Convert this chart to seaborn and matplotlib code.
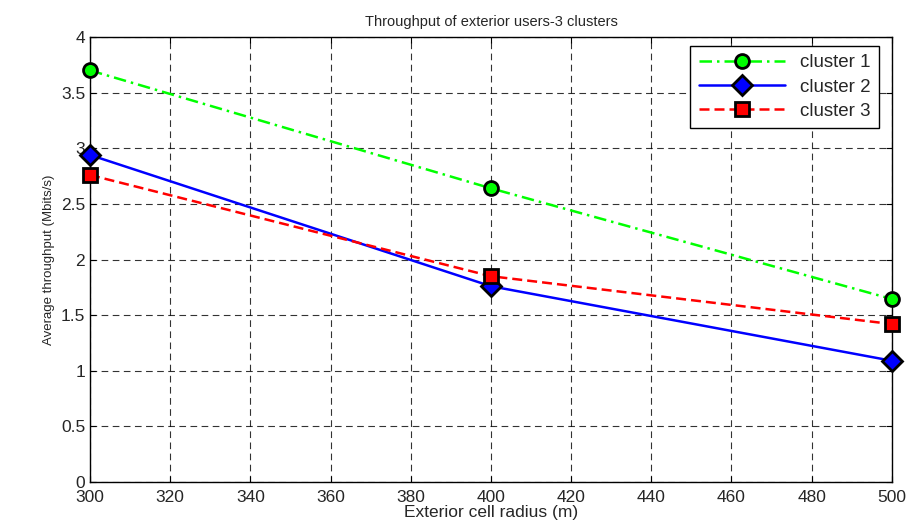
import matplotlib
matplotlib.use("Agg")
import matplotlib.pyplot as plt
import seaborn as sns
import pandas as pd

# values
radius = [300, 400, 500]
cluster1 = [3.70, 2.64, 1.645]
cluster2 = [2.94, 1.76, 1.09]
cluster3 = [2.76, 1.85, 1.42]

sns.set_style("ticks")
plt.rcParams['font.family'] = ['Liberation Sans', 'DejaVu Sans']

df = pd.DataFrame({
    "radius": radius * 3,
    "throughput": cluster1 + cluster2 + cluster3,
    "series": ["cluster 1"] * 3 + ["cluster 2"] * 3 + ["cluster 3"] * 3,
})

fig = plt.figure(figsize=(9.11, 5.29), dpi=100)
ax = fig.add_axes([0.0988, 0.0888, 0.8802, 0.8412])

sns.lineplot(data=df, x="radius", y="throughput", hue="series", style="series",
             palette={"cluster 1": "#00ff00", "cluster 2": "#0000ff", "cluster 3": "#ff0000"},
             dashes={"cluster 1": (5, 2, 1, 2), "cluster 2": "", "cluster 3": (4, 2)},
             markers={"cluster 1": "o", "cluster 2": "D", "cluster 3": "s"},
             markersize=10, markeredgecolor="black", markeredgewidth=2,
             linewidth=1.8, clip_on=False, zorder=5, ax=ax)

ax.set_xlim(300, 500)
ax.set_ylim(0, 4)
ax.set_xticks(range(300, 501, 20))
ax.set_yticks([i * 0.5 for i in range(9)])
ax.set_yticklabels(["0", "0.5", "1", "1.5", "2", "2.5", "3", "3.5", "4"])
ax.tick_params(direction="in", labelsize=12.5, length=4, color="black", top=True, right=True)
ax.tick_params(axis="x", pad=6)
ax.grid(True, color="black", linestyle=(0, (6, 4)), linewidth=0.8, alpha=0.8)
for s in ax.spines.values():
    s.set_color("black")
    s.set_linewidth(1.0)

ax.set_title("Throughput of exterior users-3 clusters", fontsize=10.5, pad=8)
ax.set_xlabel("Exterior cell radius (m)", fontsize=12.5, labelpad=0)
ax.set_ylabel("Average throughput (Mbits/s)", fontsize=9.5, labelpad=4)

leg = ax.legend(loc="upper right", fontsize=13.5, frameon=True, fancybox=False,
                edgecolor="black", framealpha=1, handlelength=4.6, borderpad=0.45,
                labelspacing=0.38, handletextpad=0.8, borderaxespad=0,
                bbox_to_anchor=(0.984, 0.98))
leg.get_frame().set_linewidth(1.0)
for h in leg.legend_handles:
    h.set_markersize(10)
    h.set_markeredgewidth(2)

fig.savefig("out.png", dpi=100)
